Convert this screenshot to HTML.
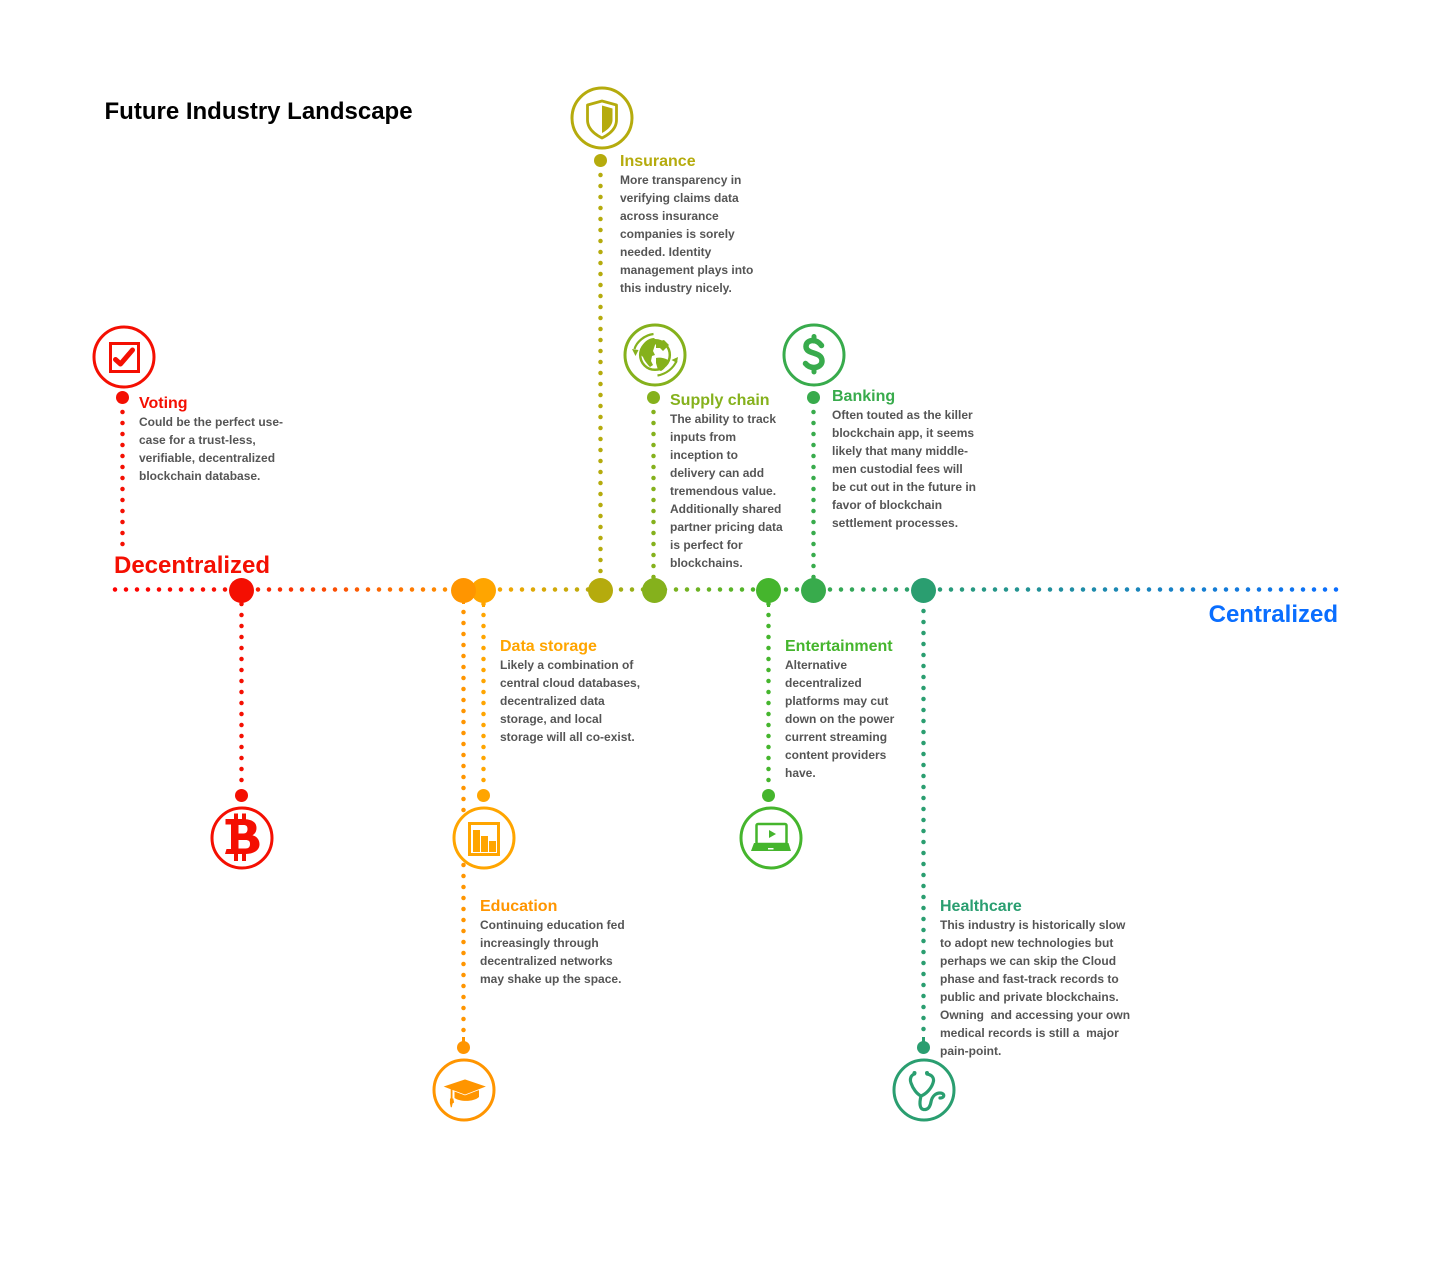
<!DOCTYPE html>
<html><head><meta charset="utf-8"><style>
html,body{margin:0;padding:0;background:#fff}
svg{display:block}
text{font-family:"Liberation Sans",Arial,sans-serif;font-weight:bold}
.b{font-size:12px;fill:#555}
.h{font-size:16px}
</style></head><body>
<svg width="1440" height="1281" viewBox="0 0 1440 1281" xmlns="http://www.w3.org/2000/svg">
<defs><linearGradient id="g" gradientUnits="userSpaceOnUse" x1="115" y1="0" x2="1336" y2="0">
<stop offset="0" stop-color="#ff0000"/>
<stop offset=".094" stop-color="#f81204"/>
<stop offset=".282" stop-color="#ff9500"/>
<stop offset=".301" stop-color="#ffa500"/>
<stop offset=".397" stop-color="#b5ab0d"/>
<stop offset=".441" stop-color="#85b11c"/>
<stop offset=".535" stop-color="#45b52d"/>
<stop offset=".572" stop-color="#38ab4c"/>
<stop offset=".662" stop-color="#2a9e70"/>
<stop offset="1" stop-color="#0a6eff"/>
</linearGradient></defs>
<rect width="1440" height="1281" fill="#fff"/>
<text x="104.500" y="119" font-size="24" fill="#000">Future Industry Landscape</text>
<text x="114" y="573" font-size="24" fill="#f40f02">Decentralized</text>
<text x="1338" y="622" font-size="24" fill="#0a6eff" text-anchor="end">Centralized</text>
<g fill="none" stroke-width="4.500" stroke-linecap="round" stroke-dasharray="0 11">
<path d="M115 589.500H1337" stroke="url(#g)"/>
<path d="M122.500 412V545" stroke="#f40f02"/>
<path d="M241.500 604V790" stroke="#f40f02"/>
<path d="M463.500 612V1040" stroke="#ff9500"/>
<path d="M483.500 604V790" stroke="#ffa500"/>
<path d="M600.500 175V578" stroke="#b5ab0d"/>
<path d="M653.500 412V578" stroke="#85b11c"/>
<path d="M768.500 604V790" stroke="#45b52d"/>
<path d="M813.500 412V578" stroke="#38ab4c"/>
<path d="M923.500 611V1040" stroke="#2a9e70"/>
</g>
<g stroke-width="3" stroke-linecap="butt" fill="none">
<path d="M241.500 600V606" stroke="#f40f02"/><path d="M463.500 600V604" stroke="#ff9500"/><path d="M483.500 600V607" stroke="#ffa500"/>
<path d="M653.500 575V580" stroke="#85b11c"/><path d="M768.500 600V607" stroke="#45b52d"/><path d="M813.500 575V580" stroke="#38ab4c"/>
<path d="M463.500 1037V1044" stroke="#ff9500"/><path d="M923.500 1037V1044" stroke="#2a9e70"/>
</g>
<circle cx="241.500" cy="590.500" r="12.500" fill="#f40f02"/>
<circle cx="483.500" cy="590.500" r="12.500" fill="#ffa500"/>
<circle cx="463.500" cy="590.500" r="12.500" fill="#ff9500"/>
<circle cx="600.500" cy="590.500" r="12.500" fill="#b5ab0d"/>
<circle cx="654.500" cy="590.500" r="12.500" fill="#85b11c"/>
<circle cx="768.500" cy="590.500" r="12.500" fill="#45b52d"/>
<circle cx="813.500" cy="590.500" r="12.500" fill="#38ab4c"/>
<circle cx="923.500" cy="590.500" r="12.500" fill="#2a9e70"/>
<circle cx="122.500" cy="397.500" r="6.500" fill="#f40f02"/>
<circle cx="241.500" cy="795.500" r="6.500" fill="#f40f02"/>
<circle cx="463.500" cy="1047.500" r="6.500" fill="#ff9500"/>
<circle cx="483.500" cy="795.500" r="6.500" fill="#ffa500"/>
<circle cx="600.500" cy="160.500" r="6.500" fill="#b5ab0d"/>
<circle cx="653.500" cy="397.500" r="6.500" fill="#85b11c"/>
<circle cx="768.500" cy="795.500" r="6.500" fill="#45b52d"/>
<circle cx="813.500" cy="397.500" r="6.500" fill="#38ab4c"/>
<circle cx="923.500" cy="1047.500" r="6.500" fill="#2a9e70"/>

<!-- Voting -->
<circle cx="124" cy="357" r="30" fill="#fff" stroke="#f40f02" stroke-width="3"/>
<rect x="110.500" y="343.500" width="28" height="28" fill="none" stroke="#f40f02" stroke-width="3"/>
<path d="M115.500 359.500L120.500 364L132.500 350" fill="none" stroke="#f40f02" stroke-width="5" stroke-linecap="round" stroke-linejoin="round"/>
<!-- Bitcoin -->
<circle cx="242" cy="838" r="30" fill="#fff" stroke="#f40f02" stroke-width="3"/>
<path fill-rule="evenodd" fill="#f40f02" d="M234 813.500H238V819H242V813.500H246V819.200C253 819.800 256.500 823 256.500 828C256.500 831.500 255 833.800 252.500 835.200C257 836.500 259.500 839.800 259.500 844.200C259.500 850.200 254 853.700 246 854V861H242V854H238V861H234V854H225L226.500 849H231V824.500H225.500V819H234zM238.500 825V833.500H243.500C246 833.500 247.500 832 247.500 829S246 825 243.500 825zM238.500 840V848.500H245.500C248.500 848.500 250 847 250 844S248.500 840 245.500 840z"/>
<!-- Data storage -->
<circle cx="484" cy="838" r="30" fill="#fff" stroke="#ffa500" stroke-width="3"/>
<rect x="469.500" y="823.500" width="29" height="31" fill="none" stroke="#ffa500" stroke-width="3"/>
<rect x="473" y="830" width="7" height="22" fill="#ffa500"/><rect x="481" y="836" width="7" height="16" fill="#ffa500"/><rect x="489" y="841" width="7" height="11" fill="#ffa500"/>
<!-- Education -->
<circle cx="464" cy="1090" r="30" fill="#fff" stroke="#ff9500" stroke-width="3"/>
<path fill="#ff9500" d="M454.500 1090L465 1094L479 1090V1097C474 1102 460 1102 454.500 1098z"/>
<path fill="#ff9500" stroke="#fff" stroke-width=".8" d="M442.500 1086.500L465 1079L487 1086.500L465 1095L453 1090.500L451.500 1090z"/>
<path fill="#ff9500" d="M450.700 1089h1.800v10h-1.800zM450 1098.500h3.300l.8 4-1.500 1-.8 3.700h-1l-.9-4z"/>
<!-- Healthcare -->
<circle cx="924" cy="1090" r="30" fill="#fff" stroke="#2a9e70" stroke-width="3"/>
<g fill="none" stroke="#2a9e70" stroke-width="3.200" stroke-linecap="round" stroke-linejoin="round">
<path d="M914.500 1074C911 1075 909.500 1079 911 1083C913 1089 917 1094 921 1096C926 1094 931 1089 933 1083C934.500 1079 933 1075 927 1074"/>
<path d="M921 1096C919 1104 920 1109 923.500 1109.500C928 1110 930 1107 931 1102C932 1096 936 1093 940 1093C945 1093 945 1098 940 1098"/>
</g>
<circle cx="914.500" cy="1073" r="2" fill="#2a9e70"/><circle cx="927" cy="1073" r="2" fill="#2a9e70"/>
<!-- Entertainment -->
<circle cx="771" cy="838" r="30" fill="#fff" stroke="#45b52d" stroke-width="3"/>
<rect x="756.500" y="824" width="30" height="20" rx="1.500" fill="none" stroke="#45b52d" stroke-width="2.500"/>
<path fill="#45b52d" d="M769 830L776 834L769 838z"/>
<path fill="#45b52d" d="M754 843H788.500L791 851H751z"/>
<rect x="768" y="848" width="5.500" height="1.500" fill="#fff"/>
<!-- Insurance -->
<circle cx="602" cy="118" r="30" fill="#fff" stroke="#b5ab0d" stroke-width="3"/>
<path d="M602 101L616.500 105V120C616.500 128 610 134 602 138C594 134 587.500 128 587.500 120V105z" fill="none" stroke="#b5ab0d" stroke-width="2.800" stroke-linejoin="round"/>
<path d="M602 105.500L612.500 108.500V120C612.500 125 608 130 602 133z" fill="#b5ab0d"/>
<!-- Supply chain -->
<circle cx="655" cy="355" r="30" fill="#fff" stroke="#85b11c" stroke-width="3"/>
<circle cx="655" cy="355" r="14.800" fill="#fff" stroke="#85b11c" stroke-width="2.500"/>
<path fill="#85b11c" d="M641 348c2-5 7-10 13-10l4 4-3 3-2 6 2 4-3 1-1 5 2 4-3 2c-3-3-6-7-7-10l-3-3zM656 342l8-2 5 5-3 3-3 3-3-3-4 0zM656 358c3-1 9 0 12 2-1 5-3 9-7 11l-3-1-2-7z"/>
<g fill="none" stroke="#85b11c" stroke-width="2.200"><path d="M634.500 349c2-7 10-14 19-15"/><path d="M676.500 361c-3 7-10 13-19 14.500"/></g>
<path fill="#85b11c" d="M632 349l6.500 1-3 6zM678 357l-6.500 3 5.500 3z"/>
<!-- Banking -->
<circle cx="814" cy="355" r="30" fill="#fff" stroke="#38ab4c" stroke-width="3"/>
<path d="M821.500 345.500C819 342 815.500 340.500 813 340.500C808.500 340.500 806 343 806 346.500C806 355 822 351 822 361C822 365 818 367.500 814 367.500C810.500 367.500 807.500 366 805.500 363.500" fill="none" stroke="#38ab4c" stroke-width="5.500" stroke-linecap="round"/>
<path d="M814 336.500V341M814 368V372" stroke="#38ab4c" stroke-width="5" stroke-linecap="round"/>

<text class="h" x="139" y="408" fill="#f40f02">Voting</text>
<text class="b" x="139" y="426">Could be the perfect use-</text><text class="b" x="139" y="444">case for a trust-less,</text><text class="b" x="139" y="462">verifiable, decentralized</text><text class="b" x="139" y="480">blockchain database.</text>

<text class="h" x="620" y="166" fill="#b5ab0d">Insurance</text>
<text class="b" x="620" y="184">More transparency in</text><text class="b" x="620" y="202">verifying claims data</text><text class="b" x="620" y="220">across insurance</text><text class="b" x="620" y="238">companies is sorely</text><text class="b" x="620" y="256">needed. Identity</text><text class="b" x="620" y="274">management plays into</text><text class="b" x="620" y="292">this industry nicely.</text>

<text class="h" x="670" y="405" fill="#85b11c">Supply chain</text>
<text class="b" x="670" y="423">The ability to track</text><text class="b" x="670" y="441">inputs from</text><text class="b" x="670" y="459">inception to</text><text class="b" x="670" y="477">delivery can add</text><text class="b" x="670" y="495">tremendous value.</text><text class="b" x="670" y="513">Additionally shared</text><text class="b" x="670" y="531">partner pricing data</text><text class="b" x="670" y="549">is perfect for</text><text class="b" x="670" y="567">blockchains.</text>

<text class="h" x="832" y="401" fill="#38ab4c">Banking</text>
<text class="b" x="832" y="419">Often touted as the killer</text><text class="b" x="832" y="437">blockchain app, it seems</text><text class="b" x="832" y="455">likely that many middle-</text><text class="b" x="832" y="473">men custodial fees will</text><text class="b" x="832" y="491">be cut out in the future in</text><text class="b" x="832" y="509">favor of blockchain</text><text class="b" x="832" y="527">settlement processes.</text>

<text class="h" x="500" y="651" fill="#ffa500">Data storage</text>
<text class="b" x="500" y="669">Likely a combination of</text><text class="b" x="500" y="687">central cloud databases,</text><text class="b" x="500" y="705">decentralized data</text><text class="b" x="500" y="723">storage, and local</text><text class="b" x="500" y="741">storage will all co-exist.</text>

<text class="h" x="785" y="651" fill="#45b52d">Entertainment</text>
<text class="b" x="785" y="669">Alternative</text><text class="b" x="785" y="687">decentralized</text><text class="b" x="785" y="705">platforms may cut</text><text class="b" x="785" y="723">down on the power</text><text class="b" x="785" y="741">current streaming</text><text class="b" x="785" y="759">content providers</text><text class="b" x="785" y="777">have.</text>

<text class="h" x="480" y="911" fill="#ff9500">Education</text>
<text class="b" x="480" y="929">Continuing education fed</text><text class="b" x="480" y="947">increasingly through</text><text class="b" x="480" y="965">decentralized networks</text><text class="b" x="480" y="983">may shake up the space.</text>

<text class="h" x="940" y="911" fill="#2a9e70">Healthcare</text>
<text class="b" x="940" y="929">This industry is historically slow</text><text class="b" x="940" y="947">to adopt new technologies but</text><text class="b" x="940" y="965">perhaps we can skip the Cloud</text><text class="b" x="940" y="983">phase and fast-track records to</text><text class="b" x="940" y="1001">public and private blockchains.</text><text class="b" x="940" y="1019" xml:space="preserve">Owning  and accessing your own</text><text class="b" x="940" y="1037" xml:space="preserve">medical records is still a  major</text><text class="b" x="940" y="1055">pain-point.</text>
</svg>
</body></html>
